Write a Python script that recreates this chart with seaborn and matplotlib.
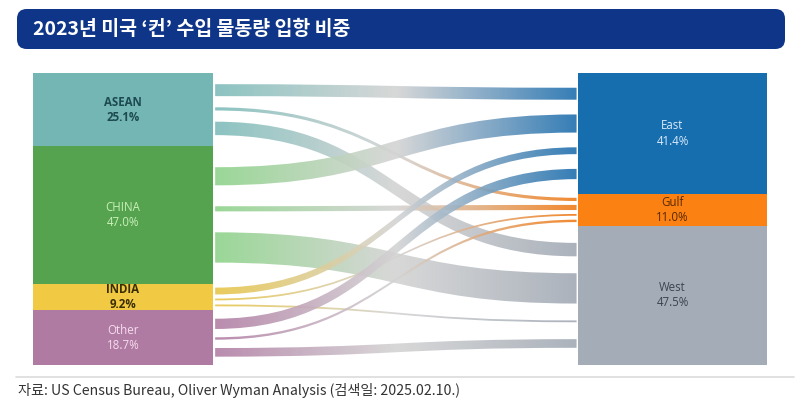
import numpy as np
import matplotlib
matplotlib.use("Agg")
import matplotlib.pyplot as plt
import seaborn as sns
from matplotlib.path import Path
from matplotlib.patches import PathPatch, FancyBboxPatch
from matplotlib.colors import LinearSegmentedColormap
from matplotlib.lines import Line2D

# ---------------- data ----------------
sources = ["ASEAN", "CHINA", "INDIA", "Other"]
source_share = [25.1, 47.0, 9.2, 18.7]
targets = ["East", "Gulf", "West"]
target_share = [41.4, 11.0, 47.5]
# flows from each source (same order as sources) to each port region
to_east = [10.5, 15.9, 6.0, 9.0]
to_gulf = [2.8, 4.5, 1.6, 2.1]
to_west = [11.8, 26.6, 1.6, 7.6]

title_text = "2023년 미국 \u2018컨\u2019 수입 물동량 입항 비중"
source_note = "자료: US Census Bureau, Oliver Wyman Analysis (검색일: 2025.02.10.)"

# ---------------- style ----------------
source_colors = ["#74b6b3", "#55a24f", "#f1c943", "#b07ba2"]
source_flow_colors = ["#7fbdbb", "#8fd38b", "#e8c64a", "#b27fa5"]
source_label_colors = ["#1c4a50", "#c9f1b9", "#3a2e00", "#f6dcef"]
source_label_weights = ["bold", "normal", "bold", "normal"]
target_colors = ["#176eae", "#fb8212", "#a4acb7"]
target_flow_colors = ["#1f6fae", "#f07c18", "#a2aab5"]
target_label_colors = ["#d6e9fa", "#5a2800", "#3c4450"]
mid_grey = "#d4d4d4"

sns.set_theme(style="white")
plt.rcParams["font.family"] = ["Noto Sans CJK KR", "DejaVu Sans"]

W, H = 811, 417
fig = plt.figure(figsize=(W / 100, H / 100), dpi=100)
fig.patch.set_facecolor("white")

# chart axes: px 33..767 horizontally, 73..365 vertically
ax = fig.add_axes([33 / W, (H - 365) / H, 734 / W, 292 / H])
ax.set_axis_off()

L0, L1 = 0.0, 1.0
R0, R1 = 3.028, 4.078
k = 0.39  # ribbon thickness relative to node scale

flows = np.array([to_east, to_gulf, to_west]).T  # shape (4 sources, 3 targets)

# nodes via bars
src_bottom = np.concatenate([[0], np.cumsum(source_share)[:-1]])
tgt_bottom = np.concatenate([[0], np.cumsum(target_share)[:-1]])
ax.bar([0.5] * len(sources), source_share, bottom=src_bottom, width=L1 - L0,
       color=source_colors, align="center", edgecolor="none", zorder=3)
ax.bar([(R0 + R1) / 2] * len(targets), target_share, bottom=tgt_bottom,
       width=R1 - R0, color=target_colors, align="center", edgecolor="none", zorder=3)


def slot_positions(total, start, widths):
    widths = np.asarray(widths) * k
    gap = (total - widths.sum()) / (len(widths) + 1)
    tops = []
    y = start + gap
    for w in widths:
        tops.append(y)
        y += w + gap
    return np.array(tops), widths


src_tops = {}
for i in range(len(sources)):
    tops, widths = slot_positions(source_share[i], src_bottom[i], flows[i])
    for j in range(len(targets)):
        src_tops[(i, j)] = (tops[j], widths[j])
tgt_tops = {}
for j in range(len(targets)):
    tops, widths = slot_positions(target_share[j], tgt_bottom[j], flows[:, j])
    for i in range(len(sources)):
        tgt_tops[(i, j)] = (tops[i], widths[i])

x0, x1 = L1 + 0.012, R0 - 0.008
xm = (x0 + x1) / 2
grad = np.linspace(0, 1, 256).reshape(1, -1)

order = [(i, j) for i in range(len(sources)) for j in range(len(targets))]
for (i, j) in order:
    ya, w = src_tops[(i, j)]
    yb, _ = tgt_tops[(i, j)]
    verts = [(x0, ya), (xm, ya), (xm, yb), (x1, yb),
             (x1, yb + w), (xm, yb + w), (xm, ya + w), (x0, ya + w), (x0, ya)]
    codes = [Path.MOVETO, Path.CURVE4, Path.CURVE4, Path.CURVE4,
             Path.LINETO, Path.CURVE4, Path.CURVE4, Path.CURVE4, Path.CLOSEPOLY]
    patch = PathPatch(Path(verts, codes), facecolor="none", edgecolor="none")
    ax.add_patch(patch)
    cmap = LinearSegmentedColormap.from_list(
        f"f{i}{j}", [source_flow_colors[i], mid_grey, target_flow_colors[j]])
    im = ax.imshow(grad, cmap=cmap, aspect="auto", extent=(x0, x1, 100, 0),
                   interpolation="bilinear", alpha=0.9, zorder=2)
    im.set_clip_path(patch)

# node labels
lab_fs = 8.3
dy = 2.6
for i, name in enumerate(sources):
    c = src_bottom[i] + source_share[i] / 2
    ax.text(0.5, c - dy, name, ha="center", va="center", fontsize=lab_fs,
            color=source_label_colors[i], fontweight=source_label_weights[i],
            family=["Open Sans", "DejaVu Sans"], zorder=4)
    ax.text(0.5, c + dy, f"{source_share[i]:.1f}%", ha="center", va="center",
            fontsize=lab_fs, color=source_label_colors[i],
            fontweight=source_label_weights[i],
            family=["Open Sans", "DejaVu Sans"], zorder=4)
for j, name in enumerate(targets):
    c = tgt_bottom[j] + target_share[j] / 2
    ax.text((R0 + R1) / 2, c - dy, name, ha="center", va="center", fontsize=lab_fs,
            color=target_label_colors[j], family=["Open Sans", "DejaVu Sans"], zorder=4)
    ax.text((R0 + R1) / 2, c + dy, f"{target_share[j]:.1f}%", ha="center",
            va="center", fontsize=lab_fs, color=target_label_colors[j],
            family=["Open Sans", "DejaVu Sans"], zorder=4)

ax.set_xlim(L0, R1)
ax.set_ylim(100, 0)

# title bar
bar = FancyBboxPatch((17 / W, (H - 49) / H), 768 / W, 40 / H,
                     boxstyle="round,pad=0,rounding_size=0.012",
                     transform=fig.transFigure, facecolor="#0e3587",
                     edgecolor="none", mutation_aspect=W / H)
fig.patches.append(bar)
fig.text(33 / W, (H - 29) / H, title_text, ha="left", va="center",
         color="white", fontsize=14, fontweight="bold",
         family=["Noto Sans CJK KR", "DejaVu Sans"])

# separator and source
fig.add_artist(Line2D([16 / W, 794 / W], [(H - 377) / H] * 2,
                      transform=fig.transFigure, color="#dcdcdc", lw=1.2))
fig.text(18 / W, (H - 390) / H, source_note, ha="left", va="center",
         color="#333333", fontsize=10.2,
         family=["Noto Sans CJK KR", "DejaVu Sans"])

fig.savefig("out.png", dpi=100, facecolor="white")
